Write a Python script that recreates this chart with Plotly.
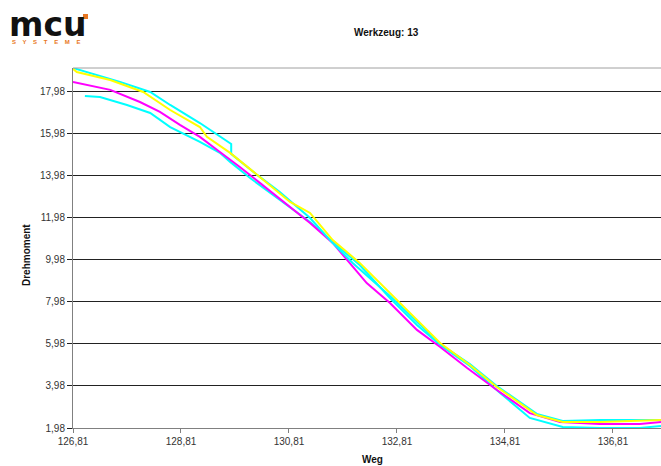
import plotly.graph_objects as go

# ---- data ----
x_cyan1 = [126.81, 127.31, 127.68, 128.24, 128.61, 129.16, 129.74, 129.74, 130.22, 130.64, 131.20,
           131.62, 131.99, 132.68, 133.18, 133.61, 134.16, 134.66, 135.40, 135.88, 136.57, 137.70]
y_cyan1 = [19.12, 18.74, 18.46, 17.98, 17.36, 16.50, 15.50, 15.03, 14.03, 13.22, 11.98,
           10.79, 9.84, 8.27, 7.03, 5.98, 5.03, 3.98, 2.65, 2.31, 2.36, 2.36]

x_yellow = [126.81, 126.88, 127.50, 128.11, 128.61, 129.16, 129.29, 129.72, 130.27, 130.83, 131.20,
            131.62, 132.12, 132.68, 133.18, 133.61, 134.16, 134.66, 135.40, 135.88, 136.57, 137.70]
y_yellow = [19.08, 18.93, 18.55, 17.98, 17.12, 16.31, 15.84, 15.08, 13.93, 12.74, 12.22,
            10.93, 9.84, 8.41, 7.12, 6.03, 4.98, 3.93, 2.60, 2.27, 2.27, 2.36]

x_magenta = [126.81, 127.50, 128.05, 128.42, 128.79, 129.16, 129.53, 129.90, 130.27, 130.83, 131.20,
             131.62, 132.25, 132.68, 133.18, 133.61, 134.11, 134.66, 135.27, 135.83, 136.57, 137.31, 137.70]
y_magenta = [18.46, 18.08, 17.50, 17.03, 16.41, 15.84, 15.12, 14.41, 13.65, 12.50, 11.74,
             10.79, 8.88, 7.93, 6.65, 5.84, 4.84, 3.79, 2.69, 2.27, 2.17, 2.17, 2.27]

x_cyan2 = [127.03, 127.31, 127.81, 128.24, 128.61, 128.92, 129.16, 129.53, 129.72, 130.09, 130.64, 131.20,
           131.62, 132.12, 132.68, 133.18, 133.61, 134.16, 134.72, 135.27, 135.88, 136.57, 137.31, 137.70]
y_cyan2 = [17.79, 17.74, 17.36, 16.98, 16.31, 15.93, 15.60, 15.08, 14.65, 13.88, 12.84, 11.79,
           10.84, 9.74, 8.17, 6.88, 5.93, 4.93, 3.65, 2.46, 2.03, 1.98, 1.98, 2.08]

x_ticks = [126.81, 128.81, 130.81, 132.81, 134.81, 136.81]
x_labels = ["126,81", "128,81", "130,81", "132,81", "134,81", "136,81"]
y_ticks = [1.98, 3.98, 5.98, 7.98, 9.98, 11.98, 13.98, 15.98, 17.98]
y_labels = ["1,98", "3,98", "5,98", "7,98", "9,98", "11,98", "13,98", "15,98", "17,98"]

title = "Werkzeug: 13"
x_title = "Weg"
y_title = "Drehmoment"

FONT = "Liberation Sans, Arial, sans-serif"

fig = go.Figure()
series = [
    (x_cyan2, y_cyan2, "#00FFFF"),
    (x_magenta, y_magenta, "#FF00FF"),
    (x_cyan1, y_cyan1, "#00FFFF"),
    (x_yellow, y_yellow, "#FFFF00"),
]
for xs, ys, c in series:
    fig.add_trace(go.Scatter(x=xs, y=ys, mode="lines",
                             line=dict(color=c, width=2), showlegend=False,
                             hoverinfo="skip"))

fig.update_layout(
    width=661, height=466,
    margin=dict(l=73, r=0, t=68, b=38),
    paper_bgcolor="white", plot_bgcolor="white",
    font=dict(family=FONT, size=10, color="#222222"),
    showlegend=False,
    xaxis=dict(range=[126.81, 137.70], tickvals=x_ticks, ticktext=x_labels,
               showgrid=False, zeroline=False, showline=True, linecolor="#808080",
               linewidth=1, ticks="outside", ticklen=4, tickcolor="#808080",
               tickfont=dict(family=FONT, size=10, color="#333333")),
    yaxis=dict(range=[1.98, 19.12], tickvals=y_ticks, ticktext=y_labels,
               showgrid=True, gridcolor="#222222", gridwidth=1, zeroline=False,
               showline=True, linecolor="#808080", linewidth=1,
               ticks="outside", ticklen=5, tickcolor="#222222",
               tickfont=dict(family=FONT, size=10, color="#333333")),
)

# top border of plot area
fig.add_shape(type="line", xref="paper", yref="paper", x0=0, x1=1, y0=1, y1=1,
              line=dict(color="#A0A0A0", width=1))

def px_x(p):
    return (p - 73) / 588

def px_y(p):
    return (428 - p) / 360

# titles
fig.add_annotation(text="<b>" + title + "</b>", xref="paper", yref="paper",
                   x=px_x(386), y=px_y(33), showarrow=False,
                   font=dict(family=FONT, size=10, color="#111111"),
                   xanchor="center", yanchor="middle")
fig.add_annotation(text="<b>" + x_title + "</b>", xref="paper", yref="paper",
                   x=px_x(372), y=px_y(460), showarrow=False,
                   font=dict(family=FONT, size=10, color="#111111"),
                   xanchor="center", yanchor="middle")
fig.add_annotation(text="<b>" + y_title + "</b>", xref="paper", yref="paper",
                   x=px_x(27), y=px_y(255), showarrow=False,
                   textangle=-90,
                   font=dict(family=FONT, size=10, color="#111111"),
                   xanchor="center", yanchor="middle")

# logo
fig.add_annotation(text="<b>mcu</b>", xref="paper", yref="paper",
                   x=px_x(8), y=px_y(24), showarrow=False,
                   font=dict(family="DejaVu Sans, sans-serif", size=33, color="#111111"),
                   xanchor="left", yanchor="middle", borderpad=0)
fig.add_annotation(text="<b>S    Y    S    T    E    M    E</b>", xref="paper", yref="paper",
                   x=px_x(11), y=px_y(42), showarrow=False,
                   font=dict(family=FONT, size=6, color="#E87722"),
                   xanchor="left", yanchor="middle", borderpad=0)
fig.add_shape(type="rect", xref="paper", yref="paper",
              x0=px_x(83), x1=px_x(88), y0=px_y(19), y1=px_y(14),
              line=dict(width=0), fillcolor="#E87722")

fig.write_html("out.html", config={"displayModeBar": False},
               post_script="document.body.style.margin='0';")
